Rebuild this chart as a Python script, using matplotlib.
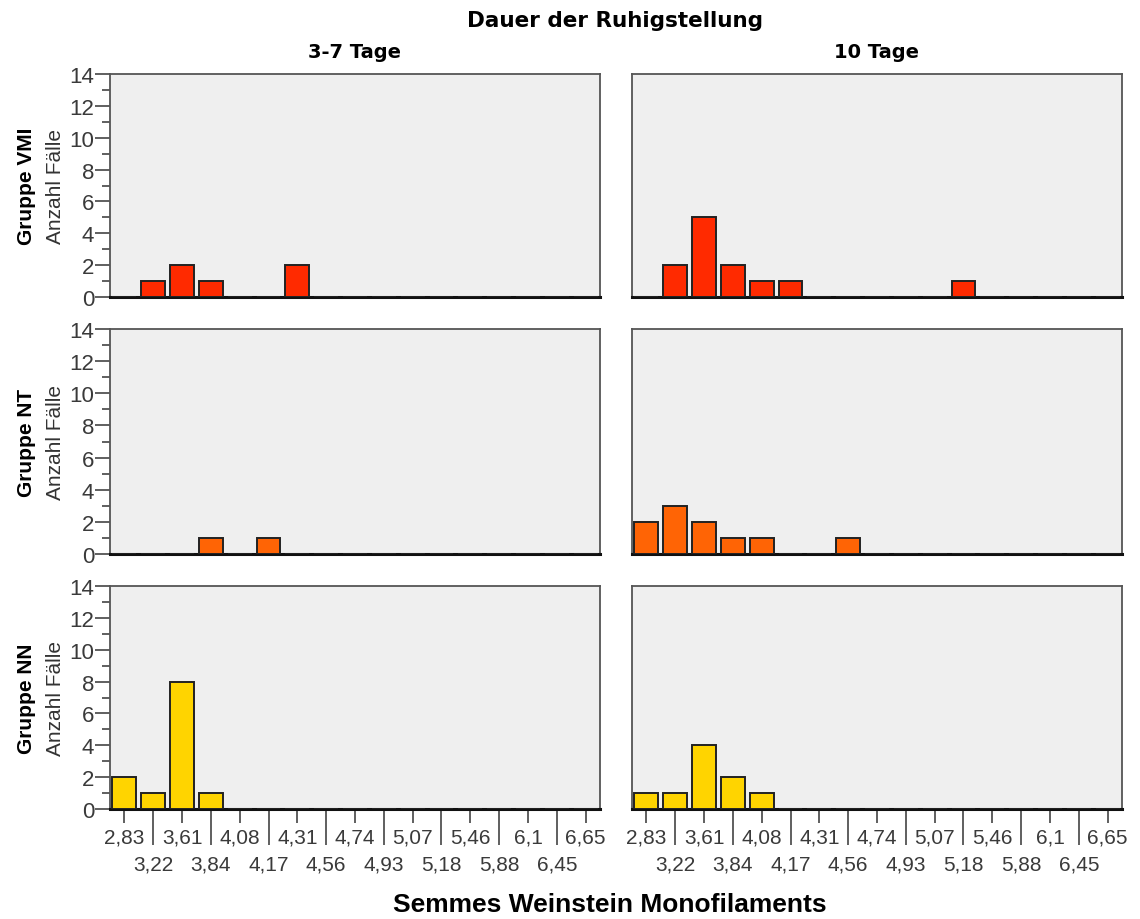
import matplotlib.pyplot as plt
from matplotlib.ticker import FixedLocator, MultipleLocator
import numpy as np

plt.rcParams['font.family'] = ['Liberation Sans', 'DejaVu Sans']

# Semmes-Weinstein filament categories (x axis)
filaments = ["2,83", "3,22", "3,61", "3,84", "4,08", "4,17", "4,31", "4,56", "4,74",
             "4,93", "5,07", "5,18", "5,46", "5,88", "6,1", "6,45", "6,65"]

groups = ["Gruppe VMI", "Gruppe NT", "Gruppe NN"]
durations = ["3-7 Tage", "10 Tage"]

# counts per filament, one list per group and immobilisation duration
vmi_short = [0, 1, 2, 1, 0, 0, 2, 0, 0, 0, 0, 0, 0, 0, 0, 0, 0]
vmi_long = [0, 2, 5, 2, 1, 1, 0, 0, 0, 0, 0, 1, 0, 0, 0, 0, 0]
nt_short = [0, 0, 0, 1, 0, 1, 0, 0, 0, 0, 0, 0, 0, 0, 0, 0, 0]
nt_long = [2, 3, 2, 1, 1, 0, 0, 1, 0, 0, 0, 0, 0, 0, 0, 0, 0]
nn_short = [2, 1, 8, 1, 0, 0, 0, 0, 0, 0, 0, 0, 0, 0, 0, 0, 0]
nn_long = [1, 1, 4, 2, 1, 0, 0, 0, 0, 0, 0, 0, 0, 0, 0, 0, 0]

counts = [[vmi_short, vmi_long], [nt_short, nt_long], [nn_short, nn_long]]
colors = ["#ff2a00", "#ff6405", "#ffd400"]

W, H = 1140, 920
fig = plt.figure(figsize=(W / 100, H / 100), dpi=100)

col_x = [(110, 600), (632, 1122)]
row_y = [(75, 298), (330, 555), (587, 810)]
tick_col = "#444444"

x = np.arange(len(filaments))
for r in range(3):
    for c in range(2):
        x0, x1 = col_x[c]
        y0, y1 = row_y[r]
        ax = fig.add_axes([x0 / W, 1 - y1 / H, (x1 - x0) / W, (y1 - y0) / H])
        ax.set_facecolor("#efefef")
        ax.bar(x, counts[r][c], width=0.83, color=colors[r],
               edgecolor="#222222", linewidth=1.4, zorder=3)
        ax.set_xlim(-0.5, len(filaments) - 0.5)
        ax.set_ylim(0, 14)
        for s in ax.spines.values():
            s.set_color("#555555")
            s.set_linewidth(1.3)
        ax.spines["bottom"].set_color("#111111")
        ax.spines["bottom"].set_linewidth(2.2)

        if c == 0:
            ax.yaxis.set_major_locator(MultipleLocator(2))
            ax.yaxis.set_minor_locator(MultipleLocator(1))
            ax.tick_params(axis="y", which="major", length=11, width=1.2,
                           color=tick_col, pad=0.5, labelsize=16,
                           labelcolor="#3a3a3a")
            ax.tick_params(axis="y", which="minor", length=6, width=1.2,
                           color=tick_col)
            ax.set_ylabel("Anzahl Fälle", fontsize=15, color="#333333")
            ax.yaxis.set_label_coords((65 - x0) / (x1 - x0), 0.5)
            ax.text((26 - x0) / (x1 - x0), 0.5, groups[r], transform=ax.transAxes,
                    rotation=90, ha="center", va="center", fontsize=15,
                    fontweight="bold")
        else:
            ax.set_yticks([])

        if r == 2:
            # staggered labels: even categories on the first row, odd on the second
            ax.xaxis.set_major_locator(FixedLocator(x[::2]))
            ax.xaxis.set_minor_locator(FixedLocator(x[1::2]))
            ax.set_xticklabels(filaments[::2])
            ax.set_xticklabels(filaments[1::2], minor=True)
            ax.tick_params(axis="x", which="major", length=10, width=1.2,
                           color=tick_col, pad=3, labelsize=15,
                           labelcolor="#3a3a3a")
            ax.tick_params(axis="x", which="minor", length=26, width=1.2,
                           color=tick_col, pad=7, labelsize=15,
                           labelcolor="#3a3a3a")
        else:
            ax.set_xticks([])

for c in range(2):
    fig.text((col_x[c][0] + col_x[c][1]) / 2 / W, 1 - 52 / H, durations[c],
             ha="center", va="center", fontsize=14, fontweight="bold",
             family="DejaVu Sans")

fig.text(615 / W, 1 - 21 / H, "Dauer der Ruhigstellung", ha="center", va="center",
         fontsize=15.5, fontweight="bold", family="DejaVu Sans")
fig.text(610 / W, 1 - 905 / H, "Semmes Weinstein Monofilaments", ha="center",
         va="center", fontsize=19, fontweight="bold")

fig.savefig("out.png", dpi=100, facecolor="white")
